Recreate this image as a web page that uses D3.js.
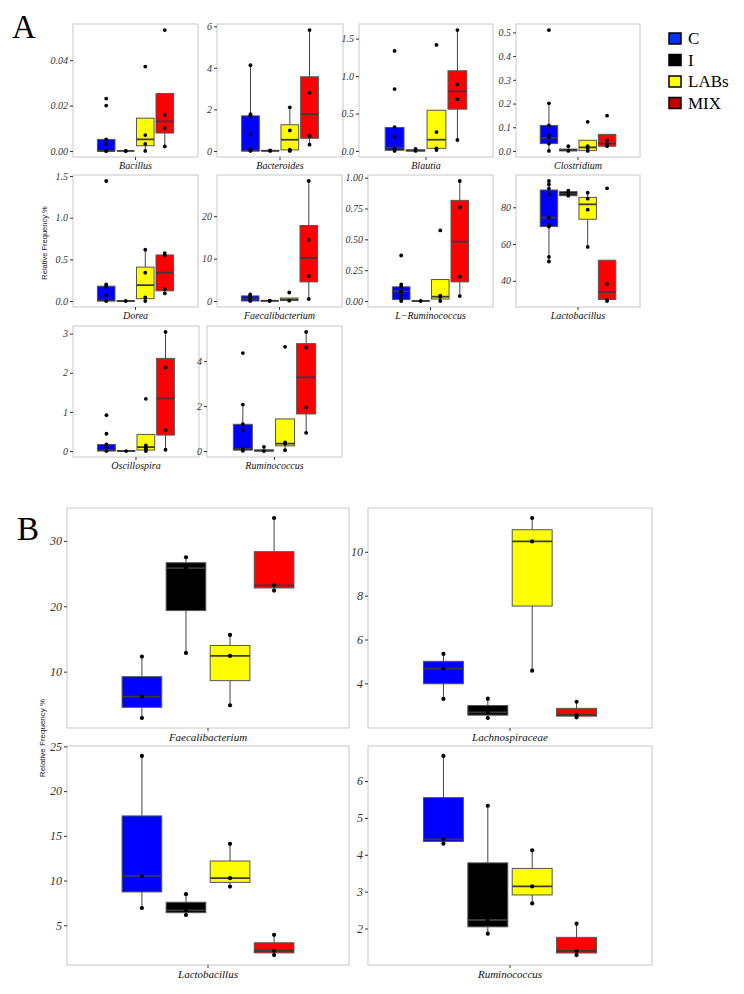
<!DOCTYPE html>
<html><head><meta charset="utf-8">
<script src="https://cdn.jsdelivr.net/npm/d3@7"></script>
<style>body{margin:0;background:#fff} svg{display:block}</style>
</head><body>
<svg id="chart" width="744" height="994"></svg>
<script>
// ---------- data ----------
const groups = ["C", "I", "LABs", "MIX"];
const groupFill = ["#0000FF", "#000000", "#FFFF00", "#FF0000"];
const legendFill = ["#0033FF", "#000000", "#FFFF00", "#C00000"];

// Panel A
const taxaA = ["Bacillus", "Bacteroides", "Blautia", "Clostridium", "Dorea",
  "Faecalibacterium", "L\u2212Ruminococcus", "Lactobacillus", "Oscillospira", "Ruminococcus"];
const ticksA = [
  ["0.00", "0.02", "0.04"], ["0", "2", "4", "6"], ["0.0", "0.5", "1.0", "1.5"],
  ["0.0", "0.1", "0.2", "0.3", "0.4", "0.5"], ["0.0", "0.5", "1.0", "1.5"], ["0", "10", "20"],
  ["0.00", "0.25", "0.50", "0.75", "1.00"], ["40", "60", "80"], ["0", "1", "2", "3"], ["0", "2", "4"]];
// box statistics per taxon: [lower whisker, Q1, median, Q3, upper whisker]
const statsA_C = [
  [0, 0, 0, 0.0051, 0.0051], [0, 0, 0.02, 1.69, 4.13], [0, 0.009, 0.044, 0.314, 0.319],
  [0, 0.031, 0.0545, 0.1075, 0.201], [0, 0, 0.008, 0.178, 0.2], [0, 0, 0.47, 1.2, 1.55],
  [0, 0.011, 0.078, 0.115, 0.134], [50.5, 69.5, 74.4, 89.4, 94.3], [0, 0, 0.025, 0.167, 0.167],
  [0, 0.04, 0.1, 1.19, 2.07]];
const statsA_I = [
  [0, 0, 0, 0, 0], [0, 0, 0.01, 0.02, 0.03], [0, 0, 0.005, 0.015, 0.027],
  [0, 0, 0.004, 0.008, 0.02], [0, 0, 0, 0.003, 0.003], [0, 0, 0.05, 0.1, 0.15],
  [0, 0, 0, 0.003, 0.003], [86.3, 86.3, 87.4, 88.5, 89.0], [0, 0, 0, 0.01, 0.01],
  [0, 0, 0.02, 0.05, 0.19]];
const statsA_LABs = [
  [0, 0.0023, 0.0051, 0.01445, 0.01445], [0, 0.05, 0.54, 1.26, 2.1], [0.013, 0.035, 0.15, 0.544, 0.544],
  [0, 0.0014, 0.015, 0.045, 0.045], [0, 0.028, 0.19, 0.407, 0.616], [0.08, 0.1, 0.35, 0.7, 0.7],
  [0, 0.016, 0.035, 0.174, 0.174], [58.4, 73.5, 81.6, 85.4, 87.9], [0, 0.025, 0.1, 0.425, 0.425],
  [0.04, 0.23, 0.33, 1.43, 1.43]];
const statsA_MIX = [
  [0.002, 0.0079, 0.013, 0.0253, 0.0253], [0.30, 0.61, 1.77, 3.57, 5.82], [0.146, 0.558, 0.796, 1.071, 1.615],
  [0.02, 0.02, 0.032, 0.07, 0.07], [0.091, 0.122, 0.34, 0.553, 0.576], [0.47, 4.5, 10.16, 17.8, 28.3],
  [0.04, 0.155, 0.481, 0.816, 0.973], [29.0, 29.8, 33.9, 51.2, 51.2], [0.033, 0.408, 1.342, 2.367, 3.042],
  [0.81, 1.65, 3.28, 4.78, 5.30]];
const pointsA_C = [
  [0.0231, 0.0200, 0.0051, 0.0031, 0, 0], [4.13, 1.77, 1.67, 0.78, 0.06, 0], [1.336, 0.827, 0.319, 0.186, 0.027, 0],
  [0.51, 0.201, 0.1075, 0.066, 0.057, 0.031, 0], [1.441, 0.2, 0.174, 0.067, 0], [1.55, 1.0, 0.47, 0],
  [0.369, 0.134, 0.115, 0.078, 0.043, 0.016, 0], [94.3, 92.4, 90.1, 87.0, 74.6, 70.5, 69.5, 53.0, 50.5],
  [0.917, 0.442, 0.167, 0.1, 0], [4.36, 2.07, 1.2, 0.94, 0.09, 0.01]];
const pointsA_I = [
  [0, 0], [0.03, 0], [0.027, 0], [0.02, 0], [0], [0.1, 0], [0], [89.0, 88.1, 86.3], [0], [0.19, 0]];
const pointsA_LABs = [
  [0.0372, 0.0070, 0.0031, 0], [2.1, 0.99, 0.06, 0], [1.416, 0.252, 0.035, 0.013], [0.123, 0.02, 0.01, 0],
  [0.616, 0.34, 0.043, 0], [2.0, 0.08], [0.572, 0.043, 0.032, 0], [87.9, 84.7, 78.7, 58.4],
  [1.333, 0.142, 0.075, 0.042, 0], [4.64, 0.39, 0.32, 0.04]];
const pointsA_MIX = [
  [0.0533, 0.0159, 0.0101, 0.002], [5.82, 2.80, 0.72, 0.30], [1.615, 0.889, 0.69, 0.146], [0.149, 0.045, 0.028, 0.02],
  [0.576, 0.549, 0.142, 0.091], [28.3, 14.4, 5.9, 0.47], [0.973, 0.759, 0.198, 0.04], [90.3, 38.2, 29.8, 29.0],
  [3.042, 2.133, 0.533, 0.033], [5.30, 4.61, 1.94, 0.81]];

// Panel B (three samples per group; boxes computed from them)
const taxaB = ["Faecalibacterium", "Lachnospiraceae", "Lactobacillus", "Ruminococcus"];
const ticksB = [["10", "20", "30"], ["4", "6", "8", "10"], ["5", "10", "15", "20", "25"], ["2", "3", "4", "5", "6"]];
const pointsB_C = [[12.30, 6.17, 2.91], [5.34, 4.67, 3.29], [23.93, 10.52, 6.93], [6.68, 4.42, 4.30]];
const pointsB_I = [[27.5, 25.82, 12.86], [3.30, 2.68, 2.42], [8.48, 6.67, 6.15], [5.33, 2.23, 1.86]];
const pointsB_LABs = [[15.61, 12.40, 4.85], [11.54, 10.47, 4.58], [14.11, 10.26, 9.33], [4.12, 3.14, 2.68]];
const pointsB_MIX = [[33.5, 23.2, 22.4], [3.16, 2.56, 2.45], [3.93, 2.15, 1.67], [2.13, 1.39, 1.28]];

// ---------- layout ----------
const layoutA = [[73,198,24,157],[217,343,24,157],[359,493,24,157],[516,640,24,157],
  [73,198,175,307],[217,342,175,307],[368,493,175,307],[516,640,175,307],
  [73,199,326,457],[207,342,326,457]];
const layoutB = [[67,349,508,728],[368,652,508,728],[67,349,746,965],[368,652,746,965]];

const svg = d3.select("#chart");
const SERIF = "'Liberation Serif','Times New Roman',serif";
const SANS = "'Liberation Sans',Arial,sans-serif";

function boxStats(v) {
  const s = v.slice().sort(d3.ascending);
  return [s[0], d3.quantile(s, 0.25), d3.quantile(s, 0.5), d3.quantile(s, 0.75), s[s.length - 1]];
}

function drawPanel(spec) {
  const [x0, x1, y0, y1] = spec.box;
  const g = svg.append("g");
  const w = x1 - x0, cx = (x0 + x1) / 2;
  const x = d3.scaleBand().domain(groups)
    .range([cx - w * 0.3125, cx + w * 0.3125]).paddingInner(0.1).paddingOuter(0.05);
  const all = [];
  spec.stats.forEach(s => all.push(...s));
  spec.points.forEach(p => all.push(...p));
  const ext = d3.extent(all);
  const pad = (ext[1] - ext[0]) * 0.05;
  const y = d3.scaleLinear().domain([ext[0] - pad, ext[1] + pad]).range([y1, y0]);

  g.append("rect").attr("x", x0).attr("y", y0).attr("width", w).attr("height", y1 - y0)
    .attr("fill", "#fff").attr("stroke", "#c8c8c8").attr("stroke-width", 1);

  groups.forEach((grp, i) => {
    const [lo, q1, md, q3, hi] = spec.stats[i];
    const bx = x(grp), bw = x.bandwidth(), mx = bx + bw / 2;
    g.append("line").attr("x1", mx).attr("x2", mx).attr("y1", y(hi)).attr("y2", y(q3))
      .attr("stroke", "#444").attr("stroke-width", spec.lw);
    g.append("line").attr("x1", mx).attr("x2", mx).attr("y1", y(q1)).attr("y2", y(lo))
      .attr("stroke", "#444").attr("stroke-width", spec.lw);
    g.append("rect").attr("x", bx).attr("y", y(q3)).attr("width", bw)
      .attr("height", Math.max(0, y(q1) - y(q3)))
      .attr("fill", groupFill[i]).attr("stroke", "#555").attr("stroke-width", spec.lw);
    g.append("line").attr("x1", bx).attr("x2", bx + bw).attr("y1", y(md)).attr("y2", y(md))
      .attr("stroke", "#3a3a3a").attr("stroke-width", spec.lw * 1.8);
    g.selectAll(null).data(spec.points[i]).enter().append("circle")
      .attr("cx", mx).attr("cy", d => y(d)).attr("r", spec.r).attr("fill", "#000");
  });

  const axis = d3.axisLeft(y).tickValues(spec.ticks.map(Number))
    .tickFormat((d, k) => spec.ticks[k]).tickSize(3).tickPadding(2);
  const ag = g.append("g").attr("transform", `translate(${x0},0)`).call(axis);
  ag.select(".domain").remove();
  ag.selectAll(".tick line").attr("stroke", "#333");
  ag.selectAll(".tick text").attr("font-family", SERIF).attr("font-style", "italic")
    .attr("font-size", spec.tickSize).attr("fill", "#333");

  g.append("line").attr("x1", cx).attr("x2", cx).attr("y1", y1).attr("y2", y1 + 3).attr("stroke", "#333");
  g.append("text").attr("x", cx).attr("y", y1 + spec.labelOffset).attr("text-anchor", "middle")
    .attr("font-family", SERIF).attr("font-style", "italic").attr("font-size", spec.labelSize)
    .attr("fill", "#111").text(spec.label);
}

taxaA.forEach((t, i) => drawPanel({
  box: layoutA[i], label: t, ticks: ticksA[i],
  stats: [statsA_C[i], statsA_I[i], statsA_LABs[i], statsA_MIX[i]],
  points: [pointsA_C[i], pointsA_I[i], pointsA_LABs[i], pointsA_MIX[i]],
  r: 1.9, lw: 1, tickSize: 10, labelSize: 10, labelOffset: 12
}));

taxaB.forEach((t, i) => {
  const pts = [pointsB_C[i], pointsB_I[i], pointsB_LABs[i], pointsB_MIX[i]];
  drawPanel({
    box: layoutB[i], label: t, ticks: ticksB[i],
    stats: pts.map(boxStats), points: pts,
    r: 2.1, lw: 1, tickSize: 12, labelSize: 11, labelOffset: 13
  });
});

// axis titles
svg.append("text").attr("transform", "translate(47,243) rotate(-90)").attr("text-anchor", "middle")
  .attr("font-family", SANS).attr("font-size", 7.5).attr("fill", "#222").text("Relative Frequency %");
svg.append("text").attr("transform", "translate(45,738) rotate(-90)").attr("text-anchor", "middle")
  .attr("font-family", SANS).attr("font-size", 8).attr("fill", "#222").text("Relative Frequency %");

// panel letters
svg.append("text").attr("x", 12).attr("y", 38).attr("font-family", SERIF).attr("font-size", 33).text("A");
svg.append("text").attr("x", 17).attr("y", 540).attr("font-family", SERIF).attr("font-size", 33).text("B");

// legend
const leg = svg.append("g");
groups.forEach((grp, i) => {
  const yy = 33 + i * 21.5;
  leg.append("rect").attr("x", 669).attr("y", yy).attr("width", 12).attr("height", 11)
    .attr("fill", legendFill[i]).attr("stroke", "#000").attr("stroke-width", 1.5);
  leg.append("text").attr("x", 688).attr("y", yy + 11).attr("font-family", SERIF)
    .attr("font-size", 17).attr("fill", "#000").text(grp);
});
</script>
</body></html>
